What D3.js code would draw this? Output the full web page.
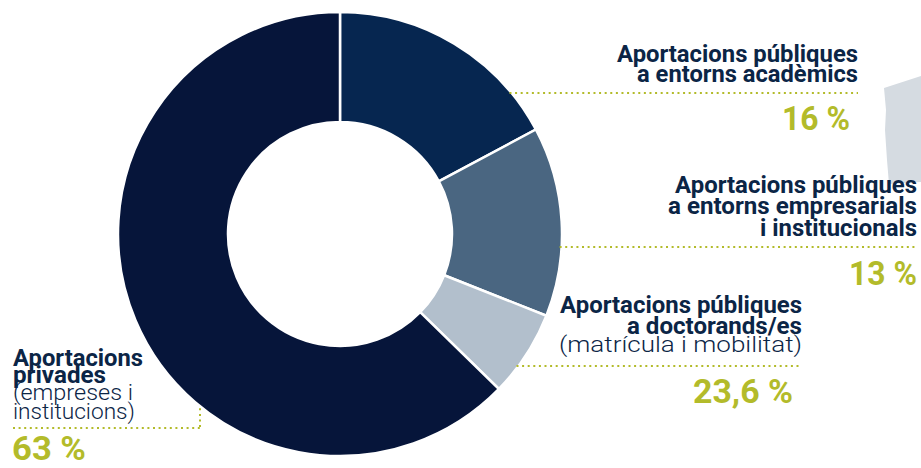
<!DOCTYPE html>
<html>
<head>
<meta charset="utf-8">
<script src="https://cdn.jsdelivr.net/npm/d3@7"></script>
<style>
  body { margin: 0; background: #fff; }
  svg { display: block; }
</style>
</head>
<body>
<div id="donut_chart"></div>
<script>
// data
var categories = [
  "Aportacions públiques a entorns acadèmics",
  "Aportacions públiques a entorns empresarials i institucionals",
  "Aportacions públiques a doctorands/es",
  "Aportacions privades"
];
// slice sizes as drawn (the printed labels don't add up with the arcs)
var sliceValues = [17.2, 13.8, 6.3, 62.7];
var percentLabels = ["16 %", "13 %", "23,6 %", "63 %"];
var titleLines = [
  ["Aportacions públiques", "a entorns acadèmics"],
  ["Aportacions públiques", "a entorns empresarials", "i institucionals"],
  ["Aportacions públiques", "a doctorands/es"],
  ["Aportacions", "privades"]
];
var noteLines = [
  [],
  [],
  ["(matrícula i mobilitat)"],
  ["(empreses i", "institucions)"]
];
var sliceColors = ["#062650", "#4a6681", "#b2bfcc", "#06153a"];

var width = 921, height = 468;
var cx = 340, cy = 234, outerR = 222, innerR = 112;
var navy = "#0b2546", olive = "#b3bb2a";

var svg = d3.select("#donut_chart")
  .append("svg")
    .attr("width", width)
    .attr("height", height);

// grey paper scrap cut off at the right edge
svg.append("path")
  .attr("d", "M884,88 L921,76 L921,182 L889,184 L887,160 L885,130 L886,110 Z")
  .attr("fill", "#d5dbe1");

// donut
var pie = d3.pie().sort(null).value(function(d) { return d; });
var arc = d3.arc().innerRadius(innerR).outerRadius(outerR);

var g = svg.append("g")
  .attr("transform", "translate(" + cx + "," + cy + ")");

g.selectAll("path")
  .data(pie(sliceValues))
  .enter().append("path")
    .attr("d", arc)
    .attr("fill", function(d, i) { return sliceColors[i]; })
    .attr("stroke", "#fff")
    .attr("stroke-width", 2.5);

// x where a horizontal line at y hits the outer edge (right or left side)
function edgeX(y, side) {
  var dy = y - cy;
  return cx + side * Math.sqrt(outerR * outerR - dy * dy);
}
function edgeY(x) {
  var dx = x - cx;
  return cy + Math.sqrt(outerR * outerR - dx * dx);
}

// label layout: anchor x, baselines and widths
var layout = [
  { x: 858, anchor: "end", lines: [[62, 241], [82, 221]], notes: [], leader: 93, pct: [850, 130, 68] },
  { x: 917, anchor: "end", lines: [[193, 242], [214, 249], [236, 157]], notes: [], leader: 247, pct: [917, 285, 68] },
  { x: 802, anchor: "end", lines: [[313, 242], [334, 175]], notes: [[352, 243]], leader: 366, pct: [793, 403, 100] },
  { x: 13, anchor: "start", lines: [[366, 130], [383, 93]], notes: [[400, 120], [419, 122]], leader: 428, pct: [12, 460, 74] }
];

function leader(x1, y1, x2, y2) {
  svg.append("line")
    .attr("x1", x1).attr("y1", y1)
    .attr("x2", x2).attr("y2", y2)
    .attr("stroke", olive)
    .attr("stroke-width", 2)
    .attr("stroke-dasharray", "2,3.6");
}

layout.forEach(function(L, i) {
  titleLines[i].forEach(function(t, j) {
    svg.append("text")
      .attr("x", L.x).attr("y", L.lines[j][0])
      .attr("text-anchor", L.anchor)
      .attr("textLength", L.lines[j][1])
      .attr("lengthAdjust", "spacingAndGlyphs")
      .style("font-family", "Roboto, sans-serif")
      .style("font-weight", 700)
      .style("font-size", "23px")
      .style("fill", navy)
      .text(t);
  });
  noteLines[i].forEach(function(t, j) {
    svg.append("text")
      .attr("x", L.x).attr("y", L.notes[j][0])
      .attr("text-anchor", L.anchor)
      .attr("textLength", L.notes[j][1])
      .attr("lengthAdjust", "spacingAndGlyphs")
      .style("font-family", "Roboto, sans-serif")
      .style("font-weight", 300)
      .style("font-size", "22px")
      .style("fill", navy)
      .text(t);
  });
  svg.append("text")
    .attr("x", L.pct[0]).attr("y", L.pct[1])
    .attr("text-anchor", L.anchor)
    .attr("textLength", L.pct[2])
    .attr("lengthAdjust", "spacingAndGlyphs")
    .style("font-family", "Roboto, sans-serif")
    .style("font-weight", 700)
    .style("font-size", "34px")
    .style("fill", olive)
    .text(percentLabels[i]);

  // dotted leaders
  if (L.anchor === "end") {
    leader(edgeX(L.leader, 1) - 2, L.leader, L.x, L.leader);
  } else {
    var vx = 200;
    leader(L.x, L.leader, vx, L.leader);
    leader(vx, edgeY(vx) + 2, vx, L.leader);
  }
});
</script>
</body>
</html>
